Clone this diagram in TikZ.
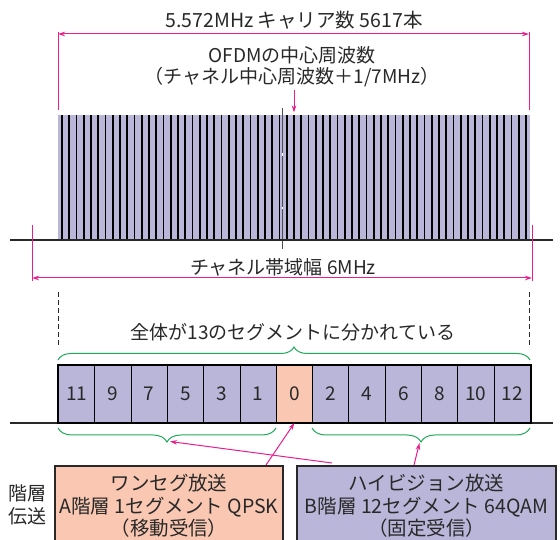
\documentclass[tikz,border=0pt]{standalone}
\usepackage{fontspec}
\setmainfont{Noto Sans CJK JP}
\usetikzlibrary{decorations.pathreplacing,arrows.meta,calc}
\definecolor{pinkc}{RGB}{232,30,140}
\definecolor{lav}{RGB}{186,182,218}
\definecolor{salmon}{RGB}{250,200,178}
\definecolor{bracegreen}{RGB}{30,170,90}
\definecolor{ink}{RGB}{40,40,40}
\begin{document}
\begin{tikzpicture}[x=1pt,y=1pt,
  font=\fontsize{19}{21}\selectfont, text=ink,
  dimline/.style={pinkc, line width=1pt},
  dimarrow/.style={pinkc, line width=1pt, {Stealth[length=7pt,width=4.5pt]}-{Stealth[length=7pt,width=4.5pt]}},
  ptr/.style={pinkc, line width=1pt, -{Stealth[length=7pt,width=4.5pt]}},
  seg/.style={draw=black, line width=0.8pt, fill=lav, minimum width=36.31pt, minimum height=57pt, inner sep=0pt, anchor=south west},
  baseline/.style={draw=ink, line width=1.5pt},
  carrier/.style={draw=black, line width=1.7pt},
  guide/.style={draw=ink, line width=1pt, dash pattern=on 5pt off 3pt},
  brc/.style={draw=bracegreen, line width=1pt, decorate, decoration={brace, amplitude=13pt, aspect=0.5}},
  infobox/.style={draw=ink, line width=2pt, minimum height=80pt, align=center, inner sep=0pt, font=\fontsize{19.5}{22.5}\selectfont},
  label/.style={inner sep=0pt}
]
\useasboundingbox (0,0) rectangle (560,540);
\clip (0,0) rectangle (560,540);

% ---- top dimension: carriers ----
\coordinate (dtl) at (58,508); \coordinate (dbl) at (58,430);
\coordinate (dtr) at (529,508); \coordinate (dbr) at (529,430);
\draw[dimline] (dtl) -- (dbl);
\draw[dimline] (dtr) -- (dbr);
\coordinate (dal) at (58,506); \coordinate (dar) at (529,506);
\draw[dimarrow] (dal) -- (dar);
\node[label, font=\fontsize{19.5}{21}\selectfont] (toplabel) at (294,520) {5.572MHz キャリア数 5617本};

\node[label, align=center] (ofdm) at (292,473) {OFDMの中心周波数\\（チャネル中心周波数＋1/7MHz）};

% ---- spectrum ----
\fill[lav] (58,300) rectangle (530,425);
\foreach \k in {0,...,64}{
  \draw[carrier] ({62+7.25*\k},300) -- ({62+7.25*\k},425);
}
\coordinate (ctop) at (282,432); \coordinate (cbot) at (282,291);
\draw[draw=gray!60!black, line width=1pt] (ctop) -- (cbot);
\draw[white, line width=1pt] (282,384) -- (282,386.5);
\draw[white, line width=1pt] (282,330.5) -- (282,333);
\coordinate (ofdmptr) at (294,450); \coordinate (ofdmtip) at (294,427.5);
\draw[ptr] (ofdmptr) -- (ofdmtip);

\coordinate (b1l) at (10,300); \coordinate (b1r) at (553,300);
\draw[baseline] (b1l) -- (b1r);

% ---- bandwidth dimension ----
\coordinate (wtl) at (32,315); \coordinate (wbl) at (32,259);
\coordinate (wtr) at (532,315); \coordinate (wbr) at (532,259);
\draw[dimline] (wtl) -- (wbl);
\draw[dimline] (wtr) -- (wbr);
\coordinate (wal) at (32,262); \coordinate (war) at (532,262);
\draw[dimarrow] (wal) -- (war);
\node[label] (bwlabel) at (283,273) {チャネル帯域幅 6MHz};

% ---- guides ----
\coordinate (gl1) at (58,248); \coordinate (gl2) at (58,193);
\coordinate (gr1) at (529,248); \coordinate (gr2) at (529,193);
\draw[guide] (gl1) -- (gl2);
\draw[guide] (gr1) -- (gr2);

\node[label] (alllabel) at (293,208) {全体が13のセグメントに分かれている};
\coordinate (brTl) at (58,180); \coordinate (brTr) at (530,180);
\draw[brc] (brTl) -- (brTr);

% ---- segments ----
\coordinate (b2l) at (10,117); \coordinate (b2r) at (553,117);
\draw[baseline] (b2l) -- (b2r);
\foreach \i/\n in {0/11,1/9,2/7,3/5,4/3,5/1,7/2,8/4,9/6,10/8,11/10,12/12}{
  \node[seg] (seg\n) at ({58+36.31*\i},117) {\n};
}
\node[seg, fill=salmon] (seg0) at ({58+36.31*6},117) {0};
\draw[black, line width=1.6pt] (seg11.north west) rectangle (seg12.south east);

% lower braces
\coordinate (brAl) at (58,112); \coordinate (brAr) at (276,112);
\coordinate (brBl) at (312,112); \coordinate (brBr) at (530,112);
\draw[brc, decoration={amplitude=14pt}] (brAr) -- (brAl);
\draw[brc, decoration={amplitude=14pt}] (brBr) -- (brBl);
\coordinate (tipA) at (170,98.5);
\coordinate (tipB) at (419.5,97);

% ---- info boxes ----
\node[infobox, fill=salmon, minimum width=228pt] (boxA) at (169,34)
  {ワンセグ放送\\A階層 1セグメント QPSK\\（移動受信）};
\node[infobox, fill=lav, minimum width=259pt] (boxB) at (426.5,34)
  {ハイビジョン放送\\B階層 12セグメント 64QAM\\（固定受信）};
\node[label, align=center, font=\fontsize{19}{23}\selectfont] (layer) at (28,35) {階層\\伝送};

% ---- pointers ----
\draw[ptr] ([xshift=-18pt]boxA.north east) -- (seg0.south);
\draw[ptr] ([xshift=118pt]boxB.north west) -- (tipB);
\draw[ptr] ([xshift=36pt,yshift=2pt]boxB.north west) -- (tipA);
\end{tikzpicture}
\end{document}
